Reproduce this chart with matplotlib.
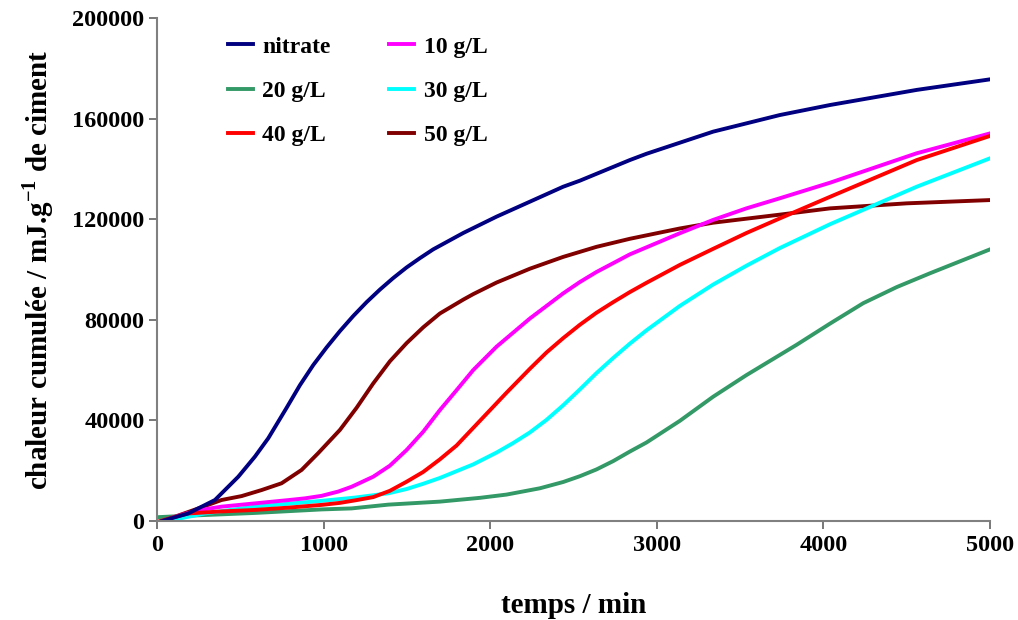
import matplotlib
matplotlib.use('Agg')
import matplotlib.pyplot as plt

plt.rcParams['font.family'] = ['Liberation Serif', 'DejaVu Serif']
plt.rcParams['font.weight'] = 'bold'
plt.rcParams['mathtext.fontset'] = 'custom'
plt.rcParams['mathtext.rm'] = 'Liberation Serif:bold'
plt.rcParams['mathtext.bf'] = 'Liberation Serif:bold'

# values (temps in min, chaleur in mJ/g)
t_nitrate = [30, 108, 188, 348, 488, 588, 668, 728, 778, 858, 938, 1018,
             1098, 1178, 1258, 1338, 1418, 1498, 1578, 1658, 1838, 2038,
             2438, 2538, 2838, 2938, 3338, 3738, 4040, 4560, 5000]
q_nitrate = [0, 1500, 3000, 8350, 17600, 25600, 32900, 39500, 45000, 54000,
             62000, 69000, 75500, 81500, 87000, 92000, 96600, 100800, 104500,
             108000, 114500, 121000, 132900, 135300, 143500, 146000, 154800,
             161400, 165400, 171400, 175600]

t_10 = [40, 100, 188, 288, 388, 588, 788, 888, 988, 1088, 1168, 1298, 1398,
        1498, 1598, 1698, 1798, 1898, 2038, 2238, 2438, 2538, 2638, 2838,
        3138, 3338, 3538, 3738, 4040, 4560, 5000]
q_10 = [0, 1500, 3200, 4650, 5700, 7000, 8300, 9000, 10000, 11700, 13600,
        17600, 22000, 28200, 35500, 44100, 52000, 60000, 69300, 80500, 90500,
        95000, 99000, 106000, 114400, 119700, 124300, 128300, 134500, 146200,
        154100]

t_20 = [0, 188, 588, 988, 1168, 1388, 1698, 1938, 2098, 2298, 2438, 2538,
        2638, 2738, 2838, 2938, 3138, 3338, 3538, 3738, 3838, 4040, 4239,
        4440, 4640, 5000]
q_20 = [1500, 2100, 3200, 4600, 5000, 6500, 7700, 9200, 10500, 13000, 15500,
        17800, 20500, 23800, 27600, 31200, 39800, 49400, 58000, 66000, 70000,
        78500, 86600, 93000, 98500, 108000]

t_30 = [66, 188, 288, 588, 988, 1188, 1388, 1498, 1598, 1698, 1798, 1898,
        2038, 2138, 2238, 2338, 2438, 2538, 2638, 2738, 2838, 2938, 3138,
        3338, 3538, 3738, 4040, 4560, 5000]
q_30 = [0, 1700, 3000, 5700, 8000, 9300, 11000, 12700, 14800, 17100, 19800,
        22500, 27200, 31000, 35200, 40200, 46000, 52300, 58800, 64800, 70500,
        75800, 85500, 94000, 101500, 108500, 118000, 132900, 144200]

t_40 = [20, 100, 188, 388, 588, 788, 988, 1098, 1198, 1298, 1398, 1498, 1598,
        1698, 1798, 1898, 2038, 2098, 2238, 2338, 2438, 2538, 2638, 2738,
        2838, 2938, 3138, 3338, 3538, 3738, 4040, 4560, 5000]
q_40 = [0, 1500, 3000, 3800, 4400, 5300, 6400, 7200, 8300, 9500, 12000,
        15600, 19500, 24500, 30000, 37000, 46800, 51000, 60500, 67000, 72700,
        78000, 82800, 87000, 91000, 94700, 101800, 108200, 114500, 120300,
        128900, 143500, 153100]

t_50 = [48, 108, 248, 388, 508, 628, 748, 868, 968, 1098, 1198, 1298, 1398,
        1498, 1598, 1698, 1838, 1898, 2038, 2238, 2438, 2638, 2838, 3138,
        3338, 3738, 4040, 4500, 5000]
q_50 = [0, 1700, 5000, 8350, 9900, 12300, 15000, 20300, 27000, 36200, 45000,
        54700, 63500, 70700, 77000, 82500, 88000, 90200, 94800, 100300,
        105000, 109000, 112200, 116300, 118600, 121800, 124300, 126300, 127600]

fig, ax = plt.subplots(figsize=(10.18, 6.2), dpi=100)
fig.subplots_adjust(left=0.1542, right=0.9725, bottom=0.1597, top=0.971)

lw = 2.8
l50, = ax.plot(t_50, q_50, color='#800000', lw=lw, label='50 g/L')
l20, = ax.plot(t_20, q_20, color='#339966', lw=lw, label='20 g/L')
l30, = ax.plot(t_30, q_30, color='#00FFFF', lw=lw, label='30 g/L')
l10, = ax.plot(t_10, q_10, color='#FF00FF', lw=lw, label='10 g/L')
l40, = ax.plot(t_40, q_40, color='#FF0000', lw=lw, label='40 g/L')
lnit, = ax.plot(t_nitrate, q_nitrate, color='#000080', lw=lw, label='nitrate')

ax.set_xlim(0, 5000)
ax.set_ylim(0, 200000)
ax.set_xticks(range(0, 5001, 1000))
ax.set_yticks(range(0, 200001, 40000))

for s in ['top', 'right']:
    ax.spines[s].set_visible(False)
for s in ['left', 'bottom']:
    ax.spines[s].set_color('#808080')
    ax.spines[s].set_linewidth(1.5)
ax.tick_params(direction='out', length=6, width=1.2, color='#606060',
               labelsize=17.5)
ax.tick_params(axis='y', pad=3)
ax.tick_params(axis='x', pad=4)

ax.set_xlabel('temps / min', fontsize=21, fontweight='bold', labelpad=26)
ax.set_ylabel('chaleur cumulée / mJ.g$^{-1}$ de ciment', fontsize=21,
              fontweight='bold', labelpad=12)

ax.legend([lnit, l20, l40, l10, l30, l50],
          ['nitrate', '20 g/L', '40 g/L', '10 g/L', '30 g/L', '50 g/L'],
          ncol=2, frameon=False, loc='upper left',
          bbox_to_anchor=(0.085, 0.964), borderaxespad=0, borderpad=0,
          handlelength=1.05, handletextpad=0.4, columnspacing=2.5,
          labelspacing=0.97, prop={'weight': 'bold', 'size': 17})

plt.savefig('out.png', dpi=100)
